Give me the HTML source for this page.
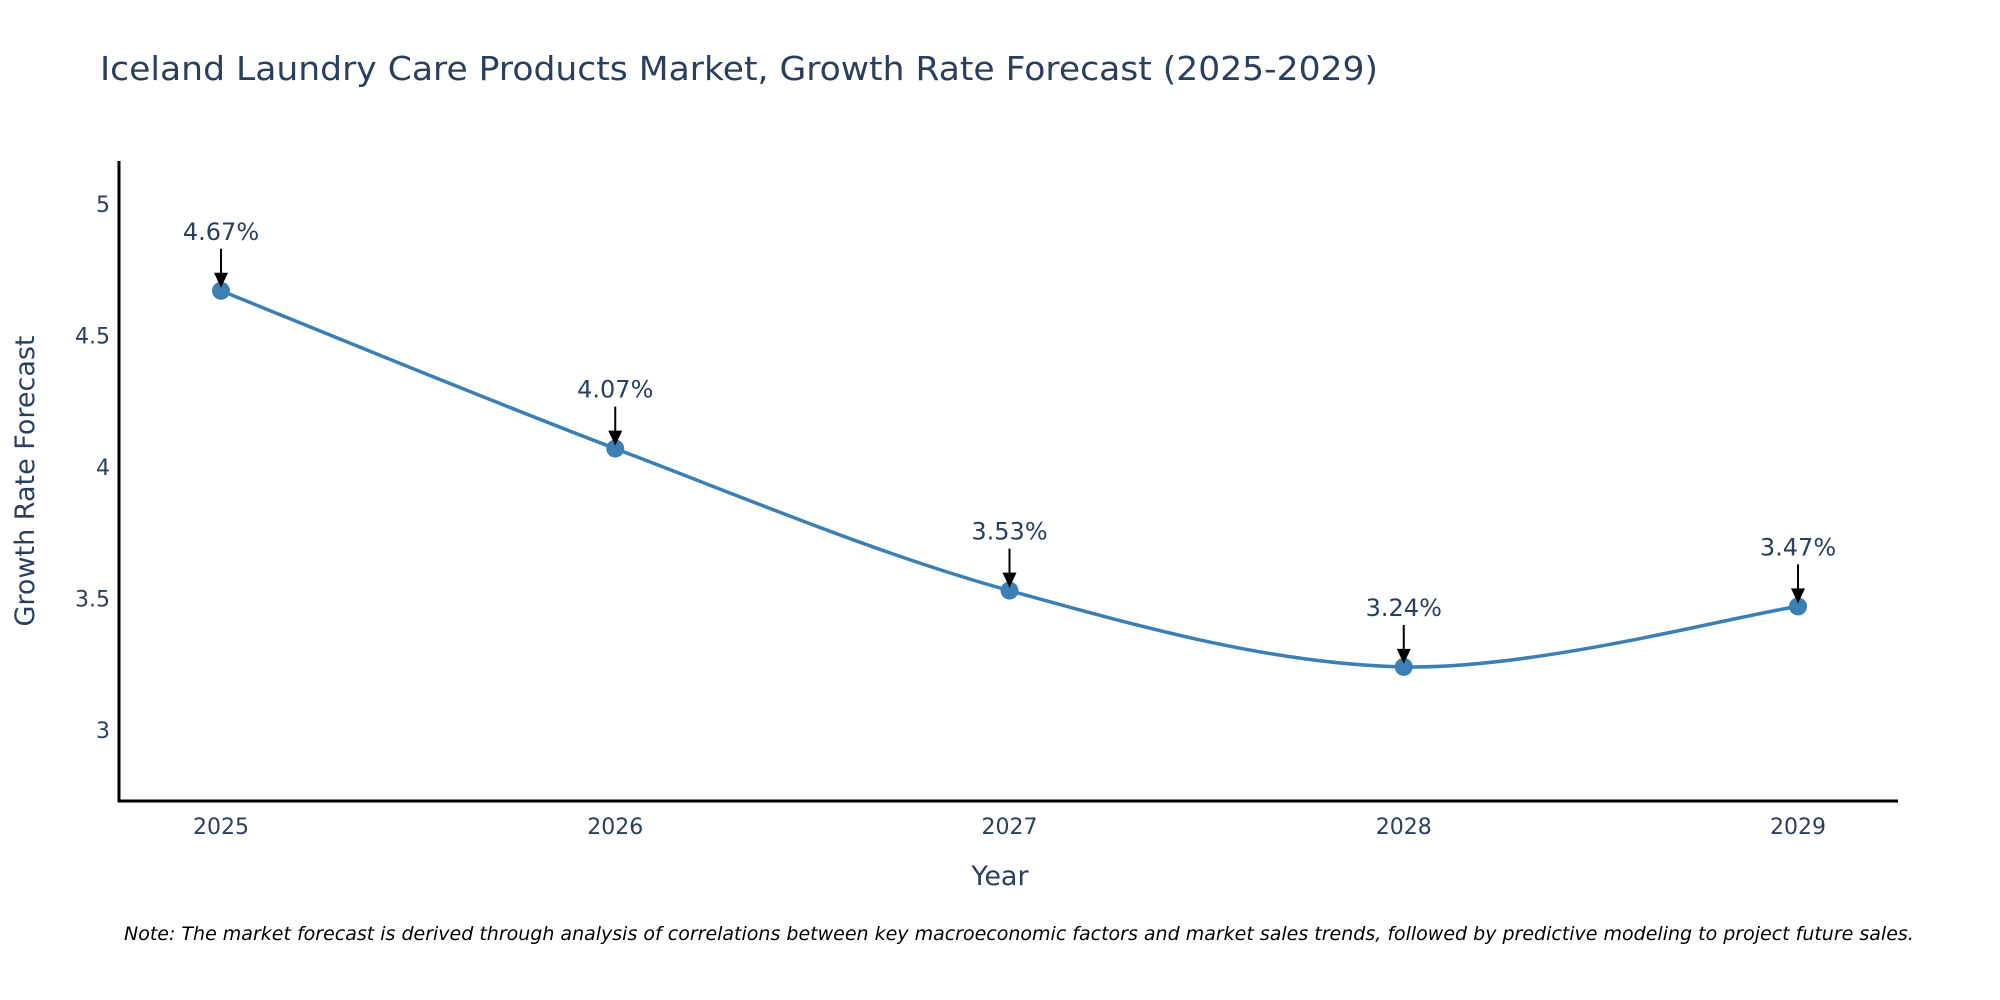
<!DOCTYPE html>
<html><head><meta charset="utf-8"><style>
html,body{margin:0;padding:0;background:#fff;}
svg{display:block;font-family:"DejaVu Sans","Liberation Sans",sans-serif;}
</style></head><body>
<svg id="chart" width="2000" height="1000" viewBox="0 0 2000 1000">
<text x="100" y="80" font-size="33" fill="#2a3f5f" textLength="1278" lengthAdjust="spacingAndGlyphs">Iceland Laundry Care Products Market, Growth Rate Forecast (2025-2029)</text>
<g id="plot"></g>
<text x="1000" y="885" font-size="27" fill="#2a3f5f" text-anchor="middle">Year</text>
<text transform="translate(34,481) rotate(-90)" font-size="27" fill="#2a3f5f" text-anchor="middle">Growth Rate Forecast</text>
<text x="124" y="940" font-size="19" font-style="italic" fill="#000">Note: The market forecast is derived through analysis of correlations between key macroeconomic factors and market sales trends, followed by predictive modeling to project future sales.</text>
</svg>
<script>
const years = [2025, 2026, 2027, 2028, 2029];
const values = [4.67, 4.07, 3.53, 3.24, 3.47];
const yTicks = [3, 3.5, 4, 4.5, 5];
const yTickLabels = ["3", "3.5", "4", "4.5", "5"];

const NS = "http://www.w3.org/2000/svg";
const plot = document.getElementById("plot");
const X0 = 119, X1 = 1898, Y0 = 801, Y1 = 161;
const xScale = i => 221 + i * (1798 - 221) / (years.length - 1);
const yScale = v => 730 - (v - 3) * 263;
function mk(tag, attrs) { const e = document.createElementNS(NS, tag); for (const k in attrs) e.setAttribute(k, attrs[k]); plot.appendChild(e); return e; }

let e = mk("line", {x1: X0, y1: Y1, x2: X0, y2: Y0 + 1, stroke: "#000", "stroke-width": 3});


e = mk("line", {x1: X0 - 1, y1: Y0, x2: X1, y2: Y0, stroke: "#000", "stroke-width": 3});



yTicks.forEach((t, i) => {
  const el = mk("text", {x: 110, y: yScale(t) + 8, "font-size": 22, fill: "#2a3f5f", "text-anchor": "end"});
  el.textContent = yTickLabels[i];
  
  
});
years.forEach((yr, i) => {
  const el = mk("text", {x: xScale(i), y: 834, "font-size": 22, fill: "#2a3f5f", "text-anchor": "middle"});
  el.textContent = yr;
  
  
});

const pts = values.map((v, i) => [xScale(i), yScale(v)]);
let d = "M" + pts[0][0] + "," + pts[0][1];
const s = 1 / 6;
for (let i = 0; i < pts.length - 1; i++) {
  const p0 = pts[Math.max(0, i - 1)], p1 = pts[i], p2 = pts[i + 1], p3 = pts[Math.min(pts.length - 1, i + 2)];
  const c1 = [p1[0] + (p2[0] - p0[0]) * s, p1[1] + (p2[1] - p0[1]) * s];
  const c2 = [p2[0] - (p3[0] - p1[0]) * s, p2[1] - (p3[1] - p1[1]) * s];
  d += " C" + c1 + " " + c2 + " " + p2;
}
e = mk("path", {d: d, fill: "none", stroke: "#3b7fb5", "stroke-width": 3.5});



pts.forEach((p, i) => {
  const c = mk("circle", {cx: p[0], cy: p[1], r: 9, fill: "#3b7fb5"});
  
  
  const a = mk("line", {x1: p[0], y1: p[1] - 42, x2: p[0], y2: p[1] - 14, stroke: "#000", "stroke-width": 2});
  
  
  const h = mk("polygon", {points: (p[0] - 7) + "," + (p[1] - 18) + " " + (p[0] + 7) + "," + (p[1] - 18) + " " + p[0] + "," + (p[1] - 3), fill: "#000"});
  
  
  const t = mk("text", {x: p[0], y: p[1] - 51, "font-size": 24, fill: "#2a3f5f", "text-anchor": "middle"});
  t.textContent = values[i].toFixed(2) + "%";
  
  
});
</script>
</body></html>
